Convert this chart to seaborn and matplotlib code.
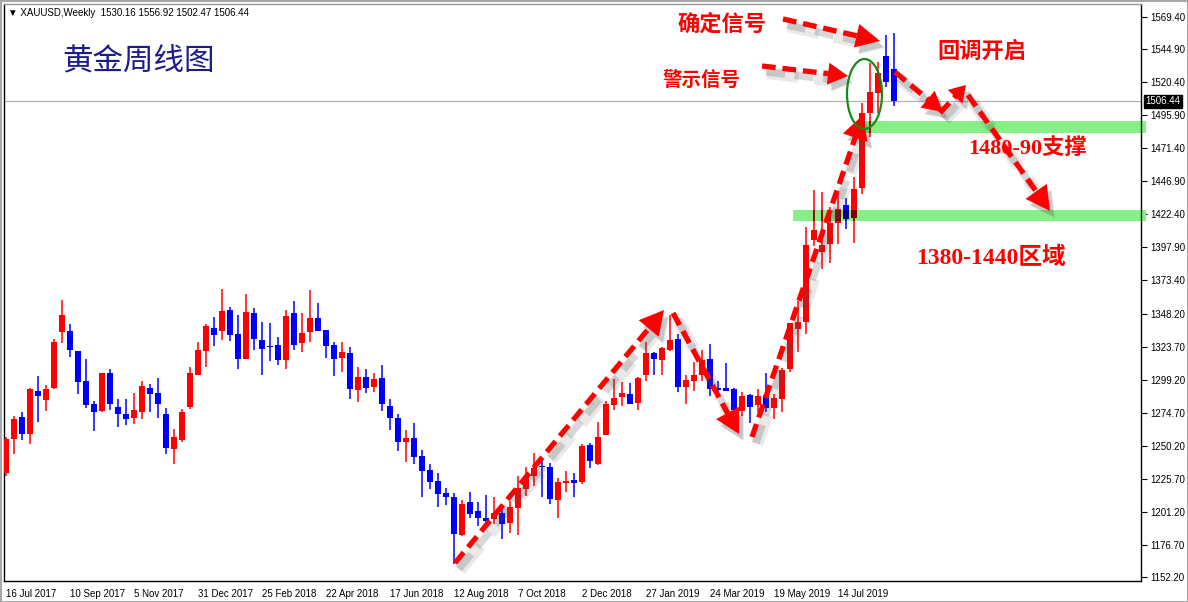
import numpy as np
import pandas as pd
import matplotlib
matplotlib.use("Agg")
import matplotlib.pyplot as plt
import matplotlib.transforms as mtransforms
from matplotlib.patches import Polygon, Ellipse, Rectangle
import seaborn as sns

# ---------------- data (weekly XAUUSD, 16 Jul 2017 .. 1 Sep 2019) ----------------
opens = [1229.6, 1255.4, 1271.5, 1259.1, 1290.9, 1284.4, 1292.9, 1335.0, 1335.5, 1320.6,
         1298.3, 1281.2, 1276.0, 1304.2, 1279.0, 1273.7, 1271.0, 1275.5, 1293.1, 1289.4,
         1273.7, 1248.0, 1254.4, 1279.0, 1302.7, 1320.9, 1337.7, 1335.7, 1351.1, 1333.2,
         1314.9, 1348.9, 1328.8, 1324.3, 1325.1, 1314.2, 1348.9, 1326.8, 1335.0, 1345.2,
         1336.2, 1325.1, 1315.6, 1319.1, 1291.8, 1301.3, 1294.1, 1300.5, 1279.7, 1270.8,
         1253.2, 1255.9, 1242.5, 1232.1, 1224.0, 1215.0, 1212.1, 1183.8, 1208.4, 1201.7,
         1196.5, 1195.7, 1200.2, 1193.0, 1204.2, 1217.8, 1228.0, 1235.1, 1234.4, 1210.1,
         1222.7, 1224.5, 1223.2, 1250.8, 1236.6, 1258.2, 1280.7, 1286.7, 1288.7, 1282.2,
         1303.1, 1319.2, 1314.2, 1321.4, 1329.6, 1294.1, 1298.6, 1303.1, 1314.7, 1293.2,
         1293.2, 1292.7, 1276.3, 1287.9, 1280.8, 1287.9, 1278.4, 1285.1, 1307.0, 1336.7,
         1342.4, 1403.1, 1394.5, 1400.4, 1416.0, 1429.5, 1419.5, 1442.0, 1497.9, 1512.3,
         1540.3, 1530.2]
highs = [1256.9, 1272.3, 1275.2, 1293.4, 1302.0, 1295.3, 1329.3, 1358.5, 1340.7, 1320.6,
         1314.7, 1283.4, 1304.2, 1307.2, 1284.9, 1284.9, 1289.4, 1298.3, 1296.1, 1300.5,
         1278.2, 1262.6, 1277.5, 1308.7, 1327.3, 1340.7, 1345.9, 1366.7, 1353.3, 1347.4,
         1363.0, 1352.6, 1342.2, 1341.4, 1331.0, 1351.1, 1357.8, 1348.9, 1366.0, 1356.3,
         1336.2, 1327.3, 1327.3, 1323.6, 1308.7, 1307.2, 1304.2, 1310.2, 1284.9, 1273.7,
         1261.8, 1267.1, 1247.0, 1236.6, 1229.9, 1218.8, 1215.0, 1209.8, 1215.8, 1208.4,
         1213.6, 1212.1, 1205.4, 1209.1, 1227.7, 1234.1, 1244.8, 1238.9, 1237.1, 1226.0,
         1231.2, 1229.7, 1251.3, 1252.3, 1267.9, 1283.5, 1299.8, 1297.6, 1296.9, 1301.3,
         1327.4, 1319.9, 1323.6, 1347.4, 1333.3, 1302.8, 1312.5, 1321.4, 1325.9, 1298.4,
         1311.7, 1293.2, 1290.2, 1288.7, 1292.4, 1304.3, 1288.6, 1307.9, 1341.7, 1357.5,
         1412.6, 1440.3, 1438.8, 1427.7, 1439.6, 1434.4, 1450.0, 1505.0, 1534.6, 1535.8,
         1555.6, 1556.9]
lows = [1228.0, 1244.2, 1254.7, 1251.7, 1268.0, 1276.0, 1292.4, 1326.8, 1316.4, 1288.9,
        1278.5, 1261.1, 1275.3, 1277.0, 1264.1, 1265.6, 1266.3, 1270.0, 1275.5, 1271.0,
        1244.2, 1236.8, 1253.2, 1277.5, 1302.7, 1308.9, 1324.6, 1329.0, 1328.3, 1307.5,
        1314.9, 1321.6, 1303.0, 1313.4, 1310.4, 1307.5, 1321.6, 1320.1, 1327.5, 1335.7,
        1315.6, 1302.3, 1305.2, 1285.1, 1282.9, 1289.6, 1290.4, 1276.2, 1262.1, 1246.5,
        1238.3, 1236.8, 1212.3, 1218.0, 1204.9, 1206.1, 1162.0, 1183.3, 1196.7, 1190.8,
        1191.3, 1192.0, 1181.1, 1185.3, 1184.1, 1213.0, 1220.3, 1212.1, 1207.1, 1196.7,
        1215.5, 1212.3, 1222.0, 1233.9, 1236.1, 1258.2, 1277.0, 1280.0, 1281.5, 1277.0,
        1298.6, 1303.1, 1303.1, 1320.9, 1290.4, 1281.5, 1291.2, 1298.6, 1287.4, 1287.4,
        1290.9, 1274.0, 1272.0, 1267.4, 1275.0, 1275.5, 1270.3, 1275.5, 1305.0, 1320.1,
        1333.5, 1398.7, 1381.6, 1386.3, 1400.4, 1411.6, 1401.2, 1437.1, 1480.0, 1498.0,
        1517.2, 1502.5]
closes = [1254.9, 1270.0, 1259.1, 1292.4, 1287.4, 1292.4, 1327.3, 1347.4, 1321.6, 1297.8,
          1280.4, 1275.5, 1304.2, 1281.4, 1274.0, 1270.3, 1276.7, 1294.6, 1288.9, 1281.4,
          1248.7, 1256.6, 1275.2, 1304.2, 1321.3, 1339.2, 1332.7, 1350.4, 1332.7, 1314.9,
          1349.6, 1329.8, 1322.3, 1323.6, 1314.2, 1346.6, 1325.3, 1334.0, 1345.2, 1335.7,
          1324.6, 1314.9, 1319.9, 1292.6, 1301.3, 1293.3, 1299.8, 1281.4, 1271.0, 1253.2,
          1255.9, 1242.0, 1231.6, 1223.5, 1214.5, 1212.3, 1184.8, 1206.9, 1199.7, 1196.7,
          1194.5, 1200.2, 1192.3, 1204.7, 1218.8, 1227.9, 1233.7, 1234.1, 1210.8, 1223.2,
          1224.0, 1222.7, 1250.0, 1239.1, 1256.7, 1281.2, 1285.7, 1289.4, 1281.5, 1300.6,
          1319.2, 1315.0, 1322.9, 1328.8, 1294.1, 1299.1, 1302.8, 1314.0, 1292.7, 1291.7,
          1291.2, 1277.0, 1287.2, 1279.3, 1287.2, 1278.5, 1285.4, 1306.5, 1341.2, 1341.9,
          1399.4, 1410.6, 1399.4, 1415.8, 1426.2, 1419.0, 1441.1, 1497.4, 1513.3, 1527.6,
          1521.0, 1506.4]

x_tick_labels = ["16 Jul 2017", "10 Sep 2017", "5 Nov 2017", "31 Dec 2017", "25 Feb 2018",
                 "22 Apr 2018", "17 Jun 2018", "12 Aug 2018", "7 Oct 2018", "2 Dec 2018",
                 "27 Jan 2019", "24 Mar 2019", "19 May 2019", "14 Jul 2019"]
x_tick_weeks = [0, 8, 16, 24, 32, 40, 48, 56, 64, 72, 80, 88, 96, 104]
y_ticks = [1569.40, 1544.90, 1520.40, 1495.90, 1471.40, 1446.90, 1422.40, 1397.90, 1373.40,
           1348.20, 1323.70, 1299.20, 1274.70, 1250.20, 1225.70, 1201.20, 1176.70, 1152.20]
last_price = 1506.44
support_band = (1483.0, 1491.7)
zone_band = (1417.3, 1425.5)

df = pd.DataFrame({"open": opens, "high": highs, "low": lows, "close": closes})
df["week"] = np.arange(len(df))
df["up"] = df["close"] >= df["open"]

# ---------------- figure ----------------
sns.set_theme(style="white")
plt.rcParams["font.family"] = ["DejaVu Sans"]

W, H = 1188, 602
fig = plt.figure(figsize=(W / 100, H / 100), dpi=100)
fig.patch.set_facecolor("white")
ax = fig.add_axes([4 / W, 21 / H, 1137 / W, 577 / H])
ax.set_facecolor("white")
ax.set_xlim(-0.25, 141.875)
ax.set_ylim(1149.58, 1578.70)

# pixel (from top-left of image) transform for annotations
PIX = mtransforms.Affine2D().scale(1 / W, -1 / H).translate(0, 1) + fig.transFigure

RED, BLUE = "#ff0000", "#0000ff"
colors = np.where(df["up"], RED, BLUE)
dark = np.where(df["up"], "#800000", "#000080")
body_bottom = np.minimum(df["open"], df["close"])
body_h = np.maximum(np.abs(df["close"] - df["open"]), 0.6)


def draw_candles(cols, z, clip=None):
    v = ax.vlines(df["week"], df["low"], df["high"], colors=cols, lw=1.1, zorder=z)
    b = ax.bar(df["week"], body_h, bottom=body_bottom, width=0.64, color=cols,
               linewidth=0, zorder=z + 0.1)
    if clip is not None:
        v.set_clip_path(clip)
        for r in b:
            r.set_clip_path(clip)


draw_candles(list(colors), 3)

# green bands (multiply look: darker candles inside)
band_color = "#86f086"
bands = []
for (lo, hi), xstart in [(support_band, 862.5), (zone_band, 793.0)]:
    x0 = (xstart - 6) / 8.0
    rect = Rectangle((x0, lo), 141.875 - x0 + 0.6, hi - lo, facecolor=band_color,
                     edgecolor="none", zorder=2, clip_on=False)
    ax.add_patch(rect)
    bands.append(rect)
for rect in bands:
    clip_rect = Rectangle(rect.get_xy(), rect.get_width(), rect.get_height(),
                          transform=ax.transData, facecolor="none")
    draw_candles(list(dark), 4, clip=clip_rect)

# last price line + label
ax.axhline(last_price, color="#b4b4b4", lw=0.9, zorder=1)
blend = mtransforms.blended_transform_factory(ax.transAxes, ax.transData)
ax.text(1.004, last_price, f"{last_price:.2f}", transform=blend, color="white",
        fontsize=7, family="Liberation Sans", va="center", ha="left",
        bbox=dict(boxstyle="square,pad=0.15", fc="black", ec="black"), zorder=10,
        clip_on=False)

# axes styling
for s in ax.spines.values():
    s.set_color("black")
    s.set_linewidth(1.0)
ax.spines["top"].set_color("#9a9a9a")
ax.yaxis.tick_right()
ax.set_yticks(y_ticks)
ax.set_yticklabels([f"{v:.2f}" for v in y_ticks])
ax.set_xticks(x_tick_weeks)
ax.set_xticklabels(x_tick_labels)
ax.tick_params(axis="both", direction="out", length=4, width=0.8, color="black",
               labelsize=7, labelcolor="black", pad=2)
ax.tick_params(axis="y", pad=3)
for lab in ax.get_xticklabels():
    lab.set_ha("left")
    lab.set_family("Liberation Sans")
for lab in ax.get_yticklabels():
    lab.set_family("Liberation Sans")
ax.grid(False)

# outer frame
fig.add_artist(Rectangle((0.5, 0.5), W - 1, H - 1, transform=PIX, fill=False,
                         edgecolor="#a8a8a8", lw=1.5))

# header
fig.text(8 / W, 1 - 13 / H, "\u25bc XAUUSD,Weekly  1530.16 1556.92 1502.47 1506.44",
         fontsize=7, family="Liberation Sans", va="center", ha="left", color="black")

CJK = ["Noto Sans CJK SC", "DejaVu Sans"]
SERIF_CJK = ["Liberation Serif", "Noto Sans CJK SC"]

ax.text(139, 61, "黄金周线图", transform=PIX, fontsize=22, color="#1c1c8a",
        family=CJK, ha="center", va="center")
for txt, (px, py), fs, fam in [("确定信号", (722, 24), 16, CJK),
                                ("警示信号", (702, 80), 14, CJK),
                                ("回调开启", (982, 51), 16, CJK),
                                ("1480-90支撑", (1028, 148), 16, SERIF_CJK),
                                ("1380-1440区域", (991, 258), 17, SERIF_CJK)]:
    ax.text(px, py, txt, transform=PIX, fontsize=fs, color=RED, family=fam,
            fontweight="bold", ha="center", va="center", zorder=12)

# green ellipse
ax.add_patch(Ellipse((864.5, 94), 35, 70, transform=PIX, fill=False,
                     edgecolor="#168a16", lw=1.6, zorder=12))


def dashed_arrow(start, tip, head_len=24, head_w=26, lw=3.8):
    s = np.array(start, float)
    t = np.array(tip, float)
    d = (t - s) / np.linalg.norm(t - s)
    n = np.array([-d[1], d[0]])
    base = t - d * head_len
    tri = np.array([t, base + n * head_w / 2, base - n * head_w / 2])
    for off, alpha, extra in [((5, 7), 0.12, 5), ((4, 6), 0.22, 1.5)]:
        o = np.array(off)
        ax.plot([s[0] + o[0], base[0] + o[0]], [s[1] + o[1], base[1] + o[1]],
                transform=PIX, color="#505050", alpha=alpha, lw=lw + extra,
                linestyle=(0, (2.6, 1.3)), solid_capstyle="butt", zorder=8)
        ax.add_patch(Polygon(tri + o, closed=True, transform=PIX, facecolor="#505050",
                             edgecolor="none", alpha=alpha, zorder=8))
    ax.plot([s[0], base[0] + d[0] * 3], [s[1], base[1] + d[1] * 3], transform=PIX,
            color=RED, lw=lw, linestyle=(0, (2.6, 1.3)), solid_capstyle="butt", zorder=9)
    ax.add_patch(Polygon(tri, closed=True, transform=PIX, facecolor=RED,
                         edgecolor="none", zorder=9))


dashed_arrow((762, 66), (848, 76), head_len=20, head_w=22)
dashed_arrow((783, 19), (880, 41), head_len=24, head_w=24)
dashed_arrow((455, 563), (664, 310))
dashed_arrow((673, 313), (739, 434))
dashed_arrow((752, 437), (863, 115))
dashed_arrow((895, 72), (943, 112), head_len=20, head_w=22)
dashed_arrow((940, 113), (966, 85), head_len=16, head_w=20)
dashed_arrow((968, 95), (1050, 211), head_len=24, head_w=26)

fig.savefig("out.png", dpi=100, facecolor="white")
